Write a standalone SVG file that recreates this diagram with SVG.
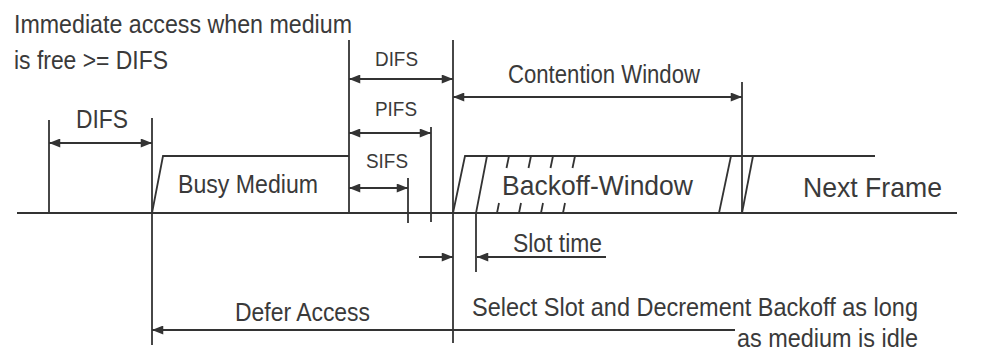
<svg xmlns="http://www.w3.org/2000/svg" width="989" height="351" viewBox="0 0 989 351">
<style>
.ln{stroke:#333;stroke-width:1.8;fill:none}
.ar{stroke:#333;stroke-width:1.8;fill:none;marker-end:url(#ah);marker-start:url(#ah)}
.ae{stroke:#333;stroke-width:1.8;fill:none;marker-end:url(#ah)}
text{font-family:"Liberation Sans",Arial,sans-serif;fill:#3a3a3a}
.t23{font-size:25px}
.t19{font-size:20.5px}
.t26{font-size:28px}
</style>
<defs>
<marker id="ah" viewBox="0 0 10 8" refX="10" refY="4" markerUnits="userSpaceOnUse" markerWidth="12" markerHeight="9" orient="auto-start-reverse">
<path d="M0,0 L10,4 L0,8 Z" fill="#333"/>
</marker>
</defs>
<rect width="989" height="351" fill="#fff"/>
<g id="connectors">
<line class="ln" x1="17" y1="213" x2="957" y2="213"/>
<line class="ln" x1="49" y1="120" x2="49" y2="213"/>
<line class="ln" x1="152" y1="118" x2="152" y2="345"/>
<line class="ln" x1="349" y1="40" x2="349" y2="213"/>
<line class="ln" x1="453" y1="40" x2="453" y2="343"/>
<line class="ln" x1="431" y1="127" x2="431" y2="222"/>
<line class="ln" x1="408" y1="178" x2="408" y2="223"/>
<line class="ln" x1="742" y1="82" x2="742" y2="213"/>
<line class="ar" x1="49" y1="143" x2="152" y2="143"/>
<line class="ar" x1="349" y1="79" x2="453" y2="79"/>
<line class="ar" x1="349" y1="133" x2="431" y2="133"/>
<line class="ar" x1="349" y1="188" x2="408" y2="188"/>
<line class="ar" x1="453" y1="97" x2="742" y2="97"/>
<line class="ae" x1="419" y1="257" x2="453" y2="257"/>
<line class="ae" x1="606" y1="257" x2="477" y2="257"/>
<line class="ae" x1="735" y1="330" x2="152" y2="330"/>
</g>
<g id="busy-medium">
<polyline class="ln" points="152,213 163,156 349,156"/>
<text class="t23" x="178" y="193" textLength="140" lengthAdjust="spacingAndGlyphs">Busy Medium</text>
</g>
<g id="backoff-window">
<polyline class="ln" points="453,213 465,156 875,156"/>
<polyline class="ln" points="487,156 476,213 476,272"/>
<line class="ln" x1="509" y1="156" x2="506.5" y2="168"/>
<line class="ln" x1="531" y1="156" x2="528.5" y2="168"/>
<line class="ln" x1="553" y1="156" x2="550.5" y2="168"/>
<line class="ln" x1="575" y1="156" x2="572.5" y2="168"/>
<line class="ln" x1="499" y1="203" x2="497" y2="213"/>
<line class="ln" x1="521" y1="203" x2="519" y2="213"/>
<line class="ln" x1="543" y1="203" x2="541" y2="213"/>
<line class="ln" x1="565" y1="203" x2="563" y2="213"/>
<line class="ln" x1="731" y1="156" x2="719" y2="213"/>
<text class="t26" x="502" y="195" textLength="191" lengthAdjust="spacingAndGlyphs">Backoff-Window</text>
</g>
<g id="next-frame">
<line class="ln" x1="753" y1="156" x2="742" y2="213"/>
<text class="t26" x="803" y="197" textLength="139" lengthAdjust="spacingAndGlyphs">Next Frame</text>
</g>
<g id="labels">
<text class="t23" x="14" y="33" textLength="338" lengthAdjust="spacingAndGlyphs">Immediate access when medium</text>
<text class="t23" x="14" y="69" textLength="154" lengthAdjust="spacingAndGlyphs">is free &gt;= DIFS</text>
<text class="t23" x="76" y="128" textLength="52" lengthAdjust="spacingAndGlyphs">DIFS</text>
<text class="t19" x="375" y="66" textLength="43" lengthAdjust="spacingAndGlyphs">DIFS</text>
<text class="t19" x="375" y="116" textLength="42" lengthAdjust="spacingAndGlyphs">PIFS</text>
<text class="t19" x="366" y="168" textLength="42" lengthAdjust="spacingAndGlyphs">SIFS</text>
<text class="t23" x="508" y="83" textLength="192" lengthAdjust="spacingAndGlyphs">Contention Window</text>
<text class="t23" x="513" y="252" textLength="89" lengthAdjust="spacingAndGlyphs">Slot time</text>
<text class="t23" x="235" y="321" textLength="135" lengthAdjust="spacingAndGlyphs">Defer Access</text>
<text class="t23" x="472" y="316" textLength="446" lengthAdjust="spacingAndGlyphs">Select Slot and Decrement Backoff as long</text>
<text class="t23" x="737" y="347" textLength="181" lengthAdjust="spacingAndGlyphs">as medium is idle</text>
</g>
</svg>
